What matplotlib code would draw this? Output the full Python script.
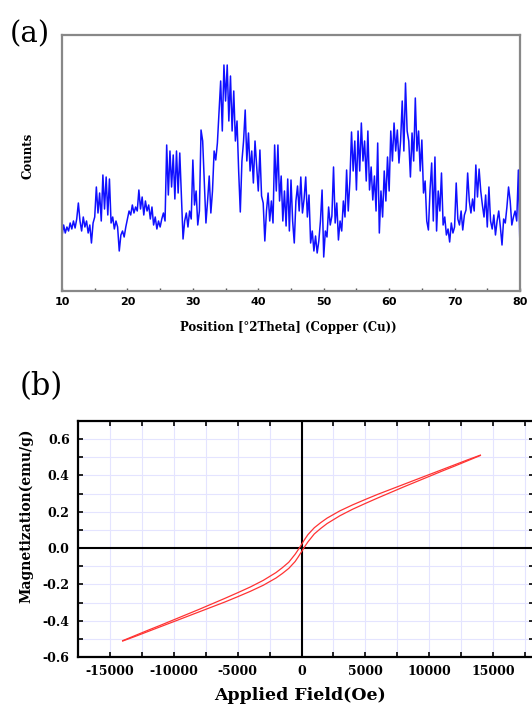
import matplotlib.pyplot as plt
import numpy as np
from matplotlib.ticker import MultipleLocator, FixedLocator

# XRD pattern, 10..80 deg at 0.25 deg steps (arbitrary counts)
two_theta_start, two_theta_step = 10.0, 0.25
counts = [
    55, 66, 58, 64, 60, 68, 62, 70, 63, 72, 88, 70, 60, 74, 64, 70,
    58, 66, 48, 68, 74, 104, 78, 98, 70, 116, 82, 114, 76, 112, 68, 74,
    62, 70, 64, 40, 56, 60, 54, 64, 72, 80, 76, 86, 78, 84, 80, 101,
    82, 94, 76, 90, 80, 86, 72, 84, 66, 74, 62, 70, 64, 72, 78, 70,
    146, 96, 140, 104, 136, 92, 140, 98, 138, 96, 52, 70, 78, 64, 80, 72,
    131, 86, 100, 66, 80, 161, 150, 110, 68, 90, 115, 78, 100, 140, 131, 148,
    180, 210, 160, 226, 190, 226, 170, 215, 160, 200, 150, 170, 120, 79, 130, 150,
    181, 130, 158, 120, 140, 108, 150, 125, 100, 141, 95, 88, 50, 80, 98, 70,
    90, 68, 146, 100, 146, 90, 115, 70, 100, 65, 112, 60, 111, 70, 48, 90,
    105, 80, 114, 78, 92, 114, 74, 96, 48, 60, 40, 55, 38, 50, 70, 101,
    34, 60, 54, 84, 66, 75, 124, 68, 88, 51, 70, 60, 90, 74, 121, 80,
    110, 159, 120, 150, 101, 160, 120, 168, 130, 150, 110, 160, 101, 124, 91, 115,
    80, 148, 58, 100, 74, 120, 90, 134, 100, 160, 130, 168, 140, 161, 128, 150,
    190, 140, 208, 160, 150, 114, 158, 130, 193, 140, 160, 120, 151, 98, 110, 70,
    61, 101, 128, 70, 134, 60, 100, 80, 118, 66, 74, 56, 62, 49, 68, 58,
    64, 108, 72, 66, 80, 61, 76, 81, 118, 90, 78, 92, 80, 126, 94, 122,
    100, 86, 74, 96, 64, 104, 70, 62, 76, 56, 70, 80, 64, 46, 72, 68,
    84, 104, 90, 66, 74, 80, 70, 121, 41,
]
two_theta = two_theta_start + two_theta_step * np.arange(len(counts))

# M-H loop: descending branch (from +Hmax); ascending branch is its mirror
field_desc = [14000, 13000, 12000, 11000, 10000, 9000, 8000, 7000, 6000, 5000,
              4000, 3000, 2000, 1500, 1000, 500, 250, 0, -250, -500, -1000,
              -1500, -2000, -3000, -4000, -5000, -6000, -7000, -8000, -9000,
              -10000, -11000, -12000, -13000, -14000]
mag_desc = [0.512, 0.486, 0.459, 0.432, 0.405, 0.378, 0.351, 0.324, 0.297, 0.268,
            0.238, 0.205, 0.165, 0.140, 0.112, 0.074, 0.048, 0.020, -0.008, -0.034,
            -0.078, -0.108, -0.135, -0.178, -0.214, -0.246, -0.277, -0.307, -0.337,
            -0.366, -0.395, -0.424, -0.452, -0.481, -0.510]
field_asc = [-h for h in field_desc]
mag_asc = [-m for m in mag_desc]

W, H = 532, 704
fig = plt.figure(figsize=(W / 100, H / 100), dpi=100)

serif = ["DejaVu Serif"]
sans = ["DejaVu Sans"]


def box(l, t, r, b):
    return [l / W, 1 - b / H, (r - l) / W, (b - t) / H]


# ---- panel (a)
ax1 = fig.add_axes(box(62, 35, 520, 291))
ax1.plot(two_theta, counts, color="#1010ff", lw=1.1)
ax1.set_xlim(10, 80)
ax1.set_ylim(0, 256)
ax1.set_yticks([])
ax1.xaxis.set_major_locator(MultipleLocator(10))
ax1.xaxis.set_minor_locator(MultipleLocator(5))
ax1.tick_params(axis="x", which="both", direction="in", length=2.5, width=1,
                color="#555555", pad=4)
for lab in ax1.get_xticklabels():
    lab.set_fontfamily(sans)
    lab.set_fontweight("bold")
    lab.set_fontsize(8)
for sp in ax1.spines.values():
    sp.set_color("#888888")
    sp.set_linewidth(1.6)

fig.text(288 / W, 1 - 327 / H, "Position [°2Theta] (Copper (Cu))", ha="center",
         va="center", family=serif, weight="bold", fontsize=8.5)
fig.text(28 / W, 1 - 156 / H, "Counts", rotation=90, ha="center", va="center",
         family=serif, weight="bold", fontsize=8.5)
fig.text(10 / W, 1 - 34 / H, "(a)", ha="left", va="center", family=serif, fontsize=21)

# ---- panel (b)
ax2 = fig.add_axes(box(78, 421, 534, 657))
ax2.set_xlim(-17500, 18200)
ax2.set_ylim(-0.6, 0.7)
ax2.xaxis.set_major_locator(FixedLocator([-15000, -10000, -5000, 0, 5000, 10000, 15000]))
ax2.xaxis.set_minor_locator(MultipleLocator(2500))
ax2.yaxis.set_major_locator(FixedLocator([-0.6, -0.4, -0.2, 0.0, 0.2, 0.4, 0.6]))
ax2.yaxis.set_minor_locator(MultipleLocator(0.1))
ax2.grid(which="both", color="#e4e4ff", lw=0.8)
ax2.set_axisbelow(True)
ax2.axhline(0, color="black", lw=1.5, zorder=2)
ax2.axvline(0, color="black", lw=1.5, zorder=2)
ax2.plot(field_desc, mag_desc, color="#ff3333", lw=0.9, zorder=3)
ax2.plot(field_asc, mag_asc, color="#ff3333", lw=0.9, zorder=3)
ax2.tick_params(which="both", direction="in", top=True, right=True, length=3.5,
                width=1.2, pad=6)
ax2.set_yticklabels(["-0.6", "-0.4", "-0.2", "0.0", "0.2", "0.4", "0.6"])
ax2.set_xticklabels(["-15000", "-10000", "-5000", "0", "5000", "10000", "15000"])
for lab in ax2.get_xticklabels() + ax2.get_yticklabels():
    lab.set_fontfamily(serif)
    lab.set_fontweight("bold")
    lab.set_fontsize(9)
for sp in ax2.spines.values():
    sp.set_color("black")
    sp.set_linewidth(1.6)

fig.text(300 / W, 1 - 695 / H, "Applied Field(Oe)", ha="center", va="center",
         family=serif, weight="bold", fontsize=12.5)
fig.text(26 / W, 1 - 516 / H, "Magnetization(emu/g)", rotation=90, ha="center",
         va="center", family=serif, weight="bold", fontsize=10)
fig.text(20 / W, 1 - 387 / H, "(b)", ha="left", va="center", family=serif, fontsize=22)

fig.savefig("out.png", dpi=100)
